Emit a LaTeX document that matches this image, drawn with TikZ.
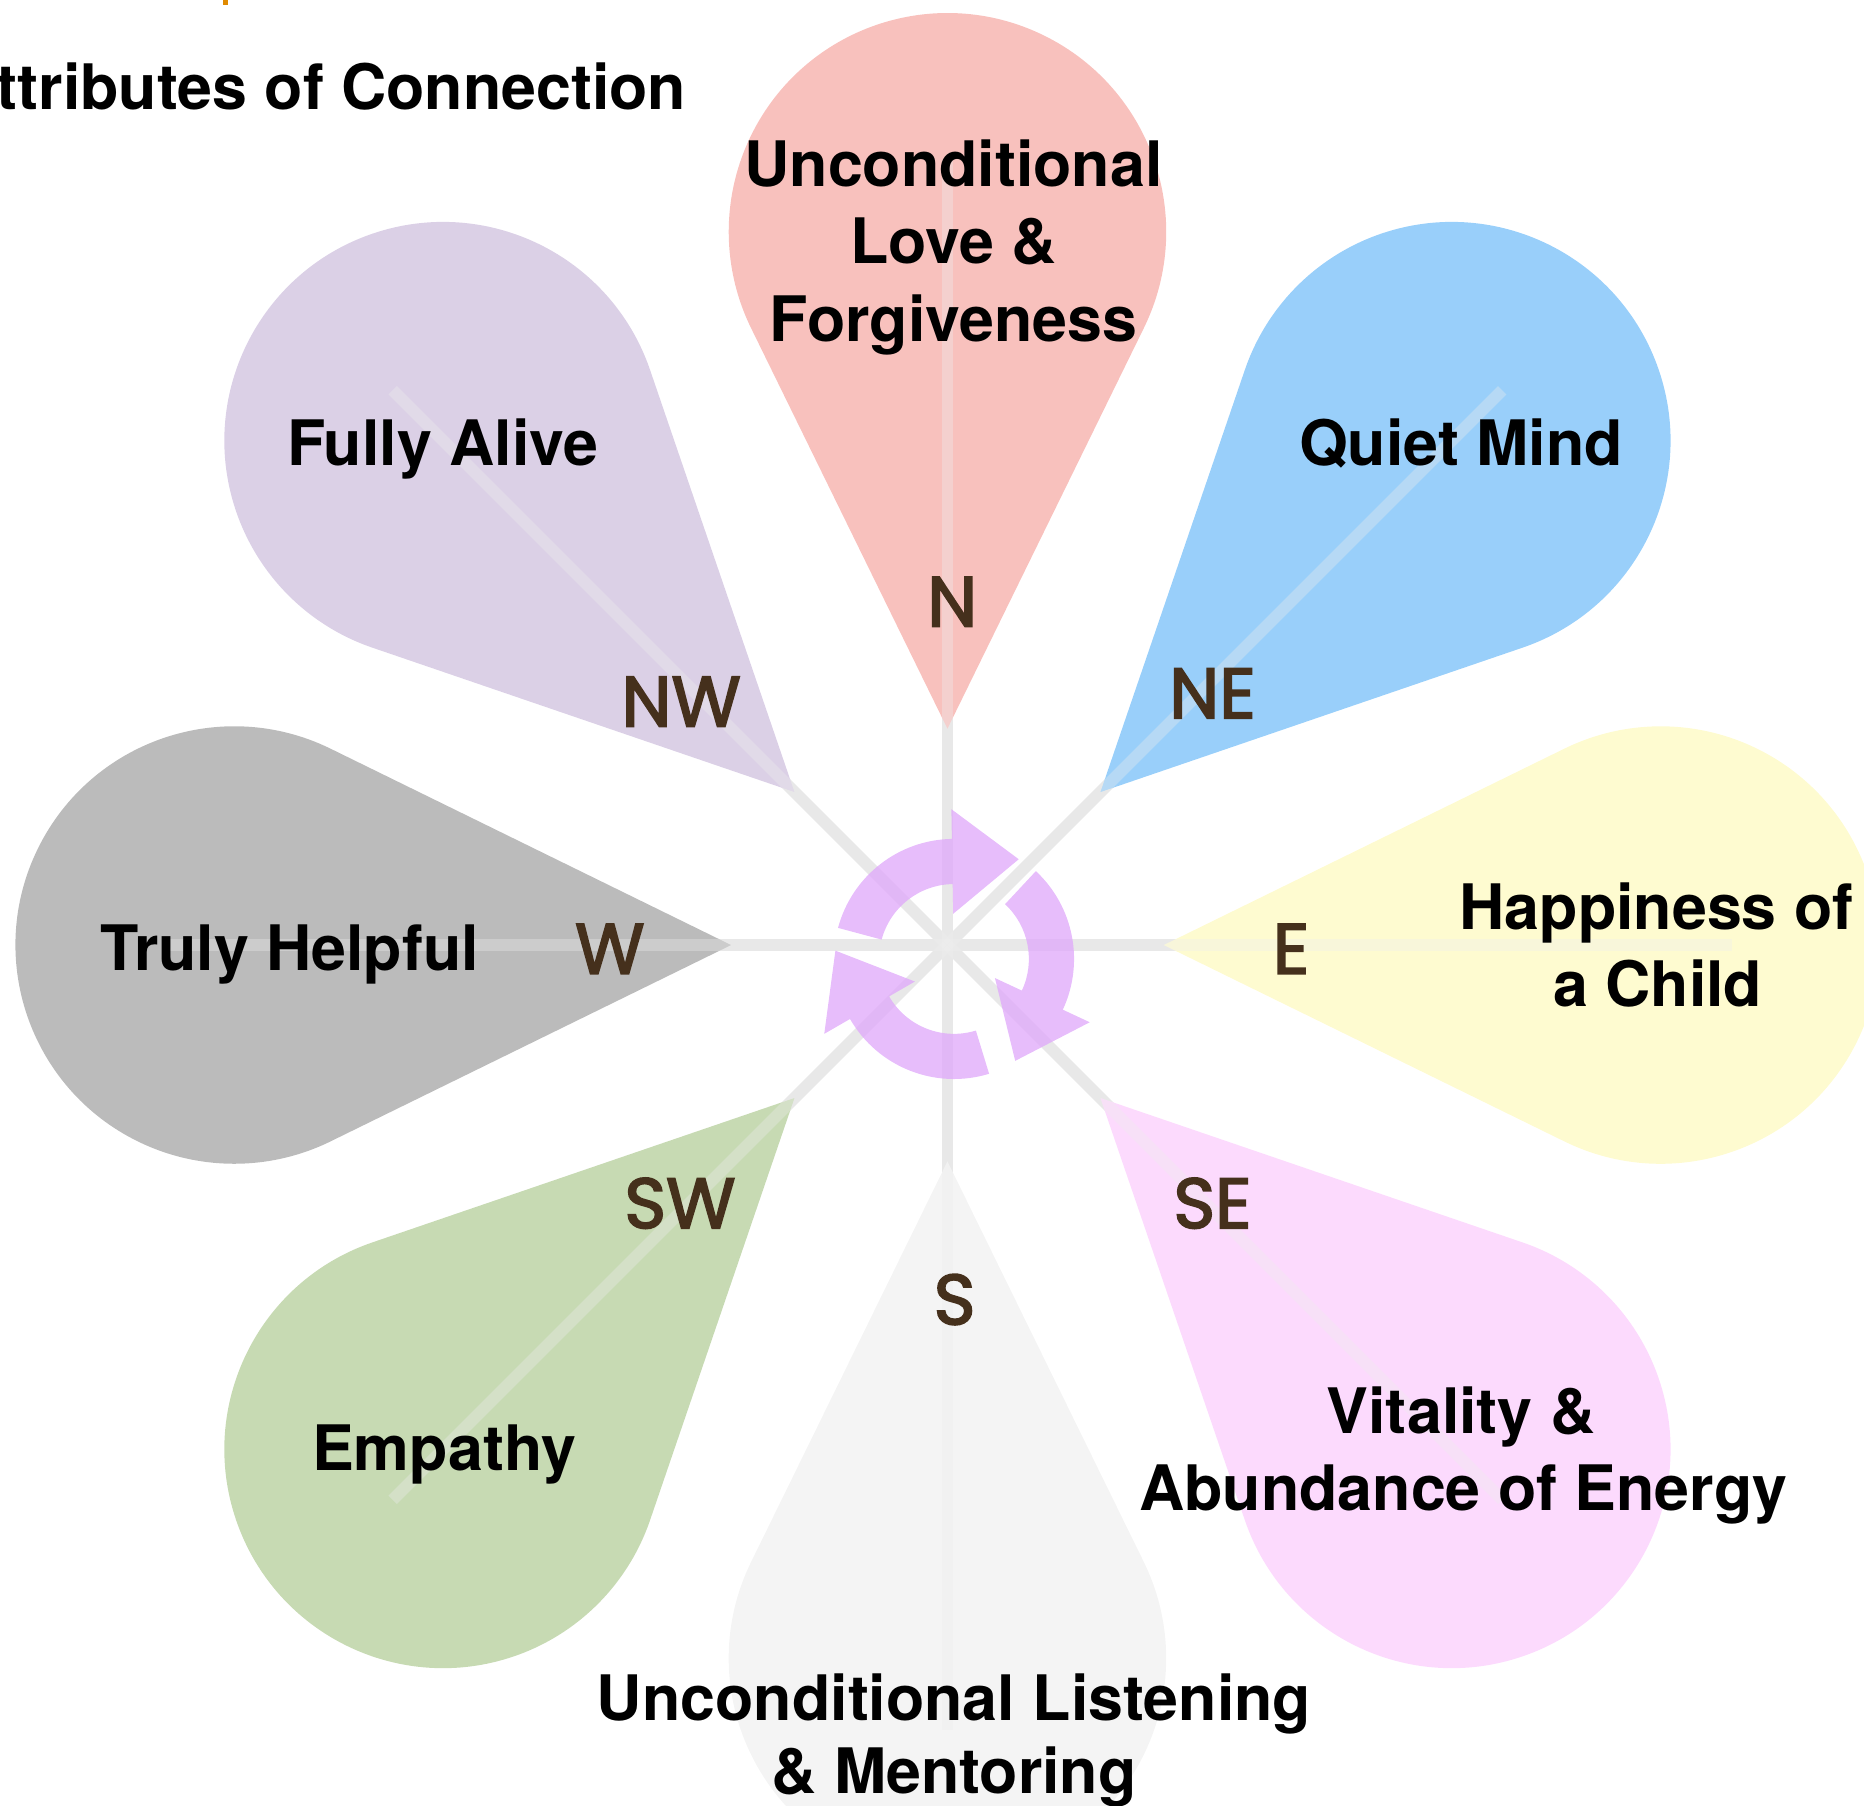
\documentclass[tikz,border=0pt]{standalone}
\usepackage{fontspec}
\setmainfont{TeX Gyre Heros}
\newfontfamily\dirfont{Poppins}[FakeBold=2.6]
\usetikzlibrary{calc}
\definecolor{cN}{HTML}{F8C1BD}
\definecolor{cNE}{HTML}{99CFFA}
\definecolor{cE}{HTML}{FEFBD0}
\definecolor{cSE}{HTML}{FCDAFD}
\definecolor{cS}{HTML}{F4F4F4}
\definecolor{cSW}{HTML}{C7DAB3}
\definecolor{cW}{HTML}{BBBBBB}
\definecolor{cNW}{HTML}{DBD0E6}
\definecolor{spokegrey}{HTML}{E6E6E6}
\definecolor{spoketop}{HTML}{EEEEEE}
\definecolor{recycol}{HTML}{E0AAFA}
\definecolor{dircol}{HTML}{45301C}
\definecolor{speck}{HTML}{E08A00}
\begin{document}
\begin{tikzpicture}[x=0.01cm,y=0.01cm,
  spokeunder/.style={draw=spokegrey, line width=0.1cm},
  spokeover/.style={draw=spoketop, line width=0.1cm, draw opacity=0.35},
  recyc/.style={fill=recycol, fill opacity=0.78},
  lbl/.style={font=\fontsize{15}{18}\selectfont\bfseries, anchor=base, inner sep=0pt},
  dirlbl/.style={font=\dirfont\fontsize{17}{20}\selectfont, text=dircol, anchor=center, inner sep=0pt, text height=12pt, text depth=0pt}]
\useasboundingbox (0,0) rectangle (1568,1518.4);
\clip (0,0) rectangle (1568,1518.4);
\coordinate (C) at (797,723.4);
\coordinate (RC) at (802.5,711.7);
\foreach \n/\a in {N/90,NE/45,E/0,SE/-45,S/-90,SW/-135,W/180,NW/135} {
  \coordinate (end\n) at ($(C)+(\a:660)$);
}
% spokes below the petals
\foreach \n in {N,NE,E,SE,S,SW,W,NW} {
  \draw[spokeunder] (C) -- (end\n);
}
% petals
\foreach \a/\c in {90/cN,45/cNE,0/cE,-45/cSE,-90/cS,-135/cSW,180/cW,135/cNW} {
  \fill[\c] ($(C)+(\a:182)$) -- ($(C)+(\a:600)+(\a-116.1:184)$)
    arc[start angle=\a-116.1, end angle=\a+116.1, radius=184] -- cycle;
}
% spokes over the petals (translucent)
\foreach \n in {N,NE,E,SE,S,SW,W,NW} {
  \draw[spokeover] (C) -- (end\n);
}
% recycle arrows
\foreach \t/\b in {165/91,47/-25,-73/-150} {
  \fill[recyc] ($(RC)+(\t:101)$) arc[start angle=\t, end angle=\b, radius=101]
    -- ($(RC)+(\b:126)$) -- ($(RC)+(\b-34:100)$) -- ($(RC)+(\b:38)$)
    -- ($(RC)+(\b:63)$) arc[start angle=\b, end angle=\t, radius=63] -- cycle;
}
% speck of cut-off text at the top
\fill[speck] (188,1514.5) rectangle (192,1518.4);
% title
\node[lbl, anchor=base east] (title) at (578,1426.4) {Attributes of Connection};
% petal texts
\node[lbl] (tN1) at (802,1361.4) {Unconditional};
\node[lbl] (tN2) at (802,1296.4) {Love \&};
\node[lbl] (tN3) at (802,1231.4) {Forgiveness};
\node[lbl] (tNE) at (1229,1126.4) {Quiet Mind};
\node[lbl] (tNW) at (372.5,1126.4) {Fully Alive};
\node[lbl] (tW) at (243.5,702.4) {Truly Helpful};
\node[lbl] (tE1) at (1393.5,736.4) {Happiness of};
\node[lbl] (tE2) at (1394.5,671.4) {a Child};
\node[lbl] (tSE1) at (1229,312.4) {Vitality \&};
\node[lbl] (tSE2) at (1231,247.4) {Abundance of Energy};
\node[lbl] (tSW) at (373.5,281.4) {Empathy};
\node[lbl] (tS1) at (802.5,71.4) {Unconditional Listening};
\node[lbl] (tS2) at (802.5,9.4) {\& Mentoring};
% direction labels
\node[dirlbl] (dN) at (801,1012.4) {N};
\node[dirlbl] (dNE) at (1020,935.4) {NE};
\node[dirlbl] (dE) at (1086,720.4) {E};
\node[dirlbl] (dSE) at (1020,506.4) {SE};
\node[dirlbl] (dS) at (803,425.4) {S};
\node[dirlbl] (dSW) at (572,506.4) {SW};
\node[dirlbl] (dW) at (513,720.4) {W};
\node[dirlbl] (dNW) at (573,928.4) {NW};
\end{tikzpicture}
\end{document}
